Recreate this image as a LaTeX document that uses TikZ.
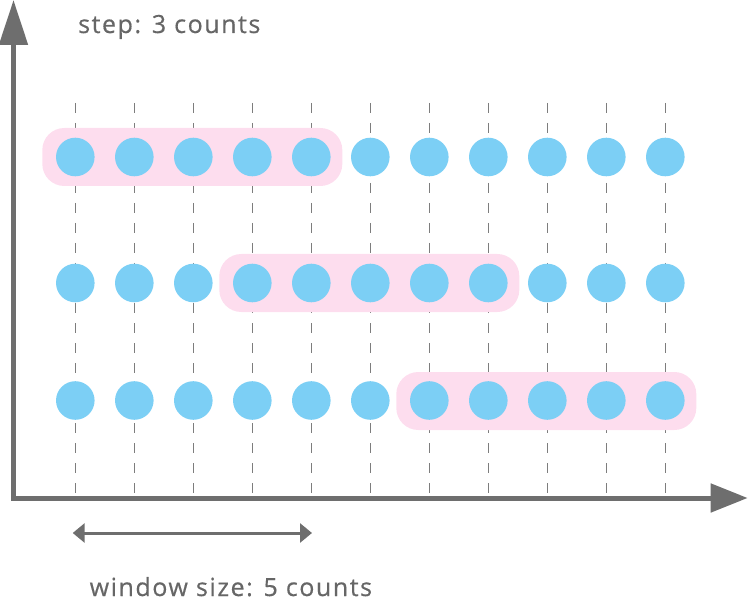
\documentclass[tikz,border=0pt]{standalone}
\usepackage{fontspec}
\setmainfont{Open Sans}
\newfontfamily\lblfont[LetterSpace=6.2,FakeBold=0.5]{Open Sans}
\usetikzlibrary{arrows.meta}
\definecolor{axisgray}{HTML}{6E6E6E}
\definecolor{dotblue}{HTML}{7CCFF5}
\definecolor{winpink}{HTML}{FDDDEE}
\definecolor{txtgray}{HTML}{666666}
\tikzset{
  axisline/.style={draw=axisgray, line width=5pt},
  guide/.style={draw=axisgray!90, line width=1.1pt, dash pattern=on 10pt off 10pt},
  dot/.style={circle, fill=dotblue, minimum size=38.6pt, inner sep=0pt},
  winbox/.style={fill=winpink, rounded corners=22pt, minimum width=300pt, minimum height=58pt, inner sep=0pt},
  label/.style={text=txtgray, font=\lblfont\fontsize{25}{29}\selectfont, inner sep=0pt, anchor=base west},
  sizearrow/.style={draw=axisgray, line width=3pt, {Triangle[width=19pt,length=12pt]}-{Triangle[width=19pt,length=12pt]}}
}
\begin{document}
\begin{tikzpicture}[x=1pt,y=-1pt]
\useasboundingbox (0,0) rectangle (748,615);
% guide lines
\foreach \i in {0,...,10}{
  \coordinate (gt\i) at ({75.3+59*\i},103);
  \coordinate (gb\i) at ({75.3+59*\i},497);
  \draw[guide] (gt\i) -- (gb\i);
}
% windows
\node[winbox] (w1) at (192.3,157) {};
\node[winbox] (w2) at (369.3,283) {};
\node[winbox] (w3) at (546.3,401) {};
% dots
\foreach \r/\y in {1/157,2/283,3/400.5}{
  \foreach \i in {0,...,10}{
    \node[dot] (d\r-\i) at ({75.3+59*\i},\y) {};
  }
}
% axes
\coordinate (o) at (13.5,498);
\coordinate (ocorner) at (11,498);
\coordinate (ytip) at (13.5,0);
\coordinate (xtip) at (747.7,498);
\draw[axisline, -{Triangle[width=28pt,length=45pt]}] (o) -- (ytip);
\draw[axisline, -{Triangle[width=28pt,length=37pt]}] (ocorner) -- (xtip);
% window size arrow
\coordinate (wl) at (72.7,533);
\coordinate (wr) at (312,533);
\draw[sizearrow] (wl) -- (wr);
% labels
\node[label] (steplbl) at (78,33) {step: 3 counts};
\node[label] (winlbl) at (89.5,596) {window size: 5 counts};
\end{tikzpicture}
\end{document}
